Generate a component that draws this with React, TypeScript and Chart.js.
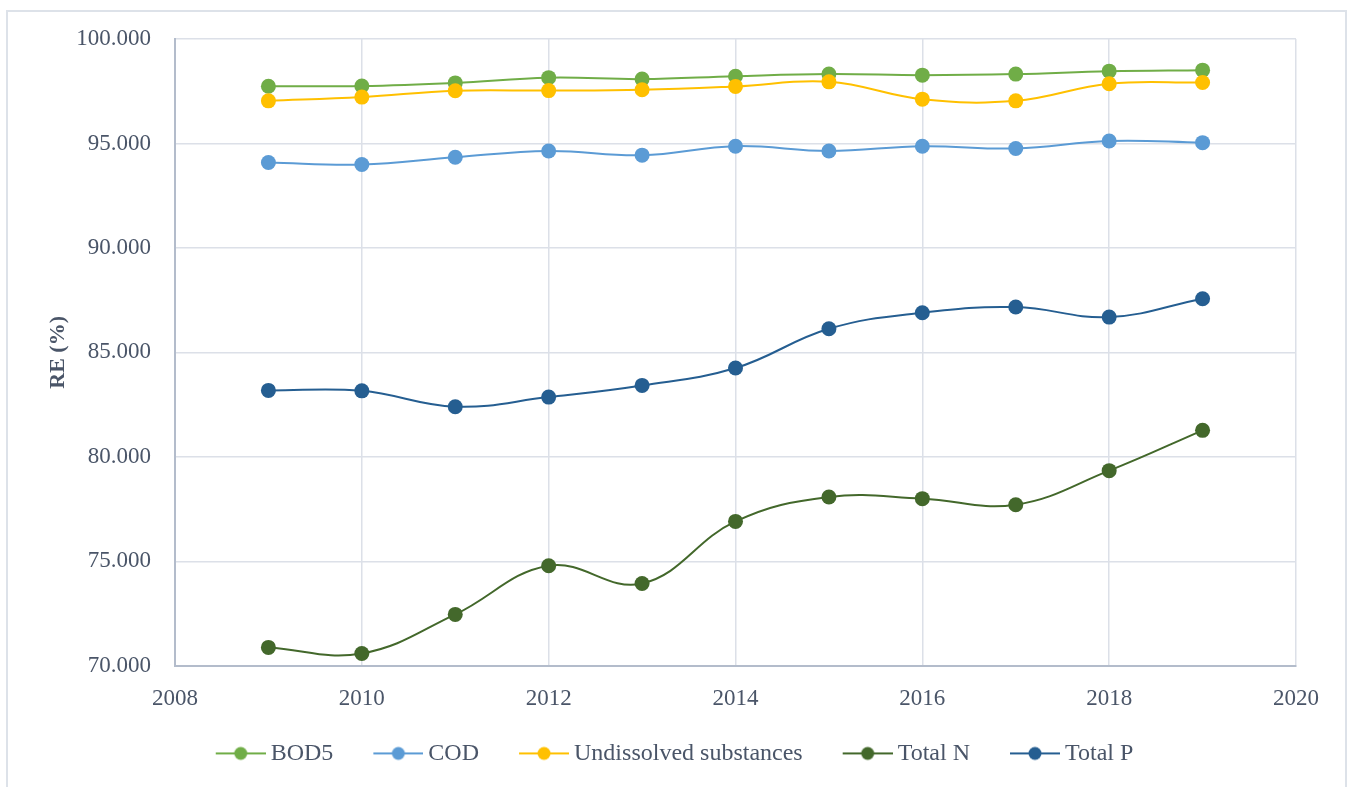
import React, { useEffect, useRef } from "react";
import { Chart, registerables } from "chart.js";

Chart.register(...registerables);

const years = [2009, 2010, 2011, 2012, 2013, 2014, 2015, 2016, 2017, 2018, 2019];
const bod5 = [97.74, 97.75, 97.9, 98.15, 98.08, 98.22, 98.32, 98.27, 98.32, 98.46, 98.51];
const cod = [94.09, 93.99, 94.34, 94.64, 94.44, 94.87, 94.64, 94.87, 94.76, 95.12, 95.04];
const undissolved = [97.04, 97.22, 97.52, 97.53, 97.57, 97.73, 97.95, 97.12, 97.04, 97.86, 97.92];
const totalN = [70.88, 70.59, 72.46, 74.79, 73.94, 76.91, 78.08, 78.0, 77.71, 79.34, 81.27];
const totalP = [83.18, 83.16, 82.4, 82.86, 83.42, 84.25, 86.13, 86.9, 87.17, 86.69, 87.57];

const seriesNames = ["BOD5", "COD", "Undissolved substances", "Total N", "Total P"];
const seriesValues = [bod5, cod, undissolved, totalN, totalP];
const seriesColors = ["#70ad47", "#5b9bd5", "#ffc000", "#43682b", "#255e91"];

const xMin = 2008;
const xMax = 2020;
const xStep = 2;
const yMin = 70;
const yMax = 100;
const yStep = 5;
const yTitle = "RE (%)";

const FONT = "'Liberation Serif', 'Times New Roman', serif";
const TEXT = "#4a5568";

const LEGEND_BOX = 73;
const MARKER_IMG_W = LEGEND_BOX + 14;

function makeMarker(color: string) {
  const c = document.createElement("canvas");
  c.width = MARKER_IMG_W;
  c.height = 16;
  const ctx = c.getContext("2d")!;
  const x0 = MARKER_IMG_W - 50;
  ctx.strokeStyle = color;
  ctx.lineWidth = 2;
  ctx.beginPath();
  ctx.moveTo(x0, 8);
  ctx.lineTo(x0 + 50, 8);
  ctx.stroke();
  ctx.fillStyle = color;
  ctx.beginPath();
  ctx.arc(x0 + 25, 8, 6.5, 0, Math.PI * 2);
  ctx.fill();
  return c;
}

const framePlugin = {
  id: "frame",
  afterLayout(chart: any) {
    const l = chart.legend;
    if (l) {
      l.left -= 15;
      l.right -= 15;
    }
  },
  beforeDraw(chart: any) {
    const ctx = chart.ctx;
    ctx.save();
    ctx.fillStyle = "#ffffff";
    ctx.fillRect(0, 0, chart.width, chart.height);
    ctx.strokeStyle = "#dde2e9";
    ctx.lineWidth = 2;
    ctx.strokeRect(7, 11, 1339, 790);
    ctx.restore();
  },
};

export default function App() {
  const ref = useRef<HTMLCanvasElement | null>(null);

  useEffect(() => {
    if (!ref.current) return;
    const markers = seriesColors.map((c) => makeMarker(c));
    const datasets = seriesNames.map((name, i) => ({
      label: name,
      data: years.map((yr, j) => ({ x: yr, y: seriesValues[i][j] })),
      borderColor: seriesColors[i],
      backgroundColor: seriesColors[i],
      pointBackgroundColor: seriesColors[i],
      pointBorderColor: seriesColors[i],
      pointRadius: 7.5,
      pointBorderWidth: 0,
      borderWidth: 2,
      tension: 0.4,
      fill: false,
      order: seriesNames.length - i,
    }));

    const chart = new Chart(ref.current, {
      type: "line",
      data: { datasets },
      plugins: [framePlugin],
      options: {
        responsive: false,
        animation: false,
        layout: { padding: { left: 53, right: 53, top: 39, bottom: 11.6 } },
        plugins: {
          tooltip: { enabled: false },
          legend: {
            position: "bottom",
            labels: {
              usePointStyle: true,
              pointStyleWidth: LEGEND_BOX,
              padding: 10,
              color: TEXT,
              font: { family: FONT, size: 24 },
              generateLabels: (ch: any) =>
                ch.data.datasets.map((ds: any, i: number) => ({
                  text: ds.label,
                  fillStyle: ds.borderColor,
                  strokeStyle: ds.borderColor,
                  lineWidth: 0,
                  pointStyle: markers[i],
                  hidden: false,
                  datasetIndex: i,
                  fontColor: TEXT,
                })),
            },
          },
        },
        scales: {
          x: {
            type: "linear",
            min: xMin,
            max: xMax,
            afterFit: (s: any) => {
              s.height = 65.6;
            },
            ticks: {
              stepSize: xStep,
              padding: 19,
              color: TEXT,
              font: { family: FONT, size: 23 },
              callback: (v: any) => String(v),
              maxRotation: 0,
            },
            grid: { color: "#dce0e8", lineWidth: 1.5, drawTicks: false },
            border: { color: "#b3bccb", width: 2 },
          },
          y: {
            type: "linear",
            min: yMin,
            max: yMax,
            afterFit: (s: any) => {
              s.width = 122;
            },
            ticks: {
              stepSize: yStep,
              padding: 24,
              color: TEXT,
              font: { family: FONT, size: 23 },
              callback: (v: any) => Number(v).toFixed(3),
            },
            grid: { color: "#dce0e8", lineWidth: 1.5, drawTicks: false },
            border: { color: "#b3bccb", width: 2 },
            title: {
              display: true,
              text: yTitle,
              color: TEXT,
              font: { family: FONT, size: 22, weight: "bold" },
              padding: { top: -8, bottom: 0 },
            },
          },
        },
      } as any,
    });
    return () => chart.destroy();
  }, []);

  return (
    <div style={{ position: "absolute", left: 0, top: 0, width: 1349, height: 787 }}>
      <canvas ref={ref} width={1349} height={787} style={{ width: 1349, height: 787, display: "block" }} />
    </div>
  );
}
